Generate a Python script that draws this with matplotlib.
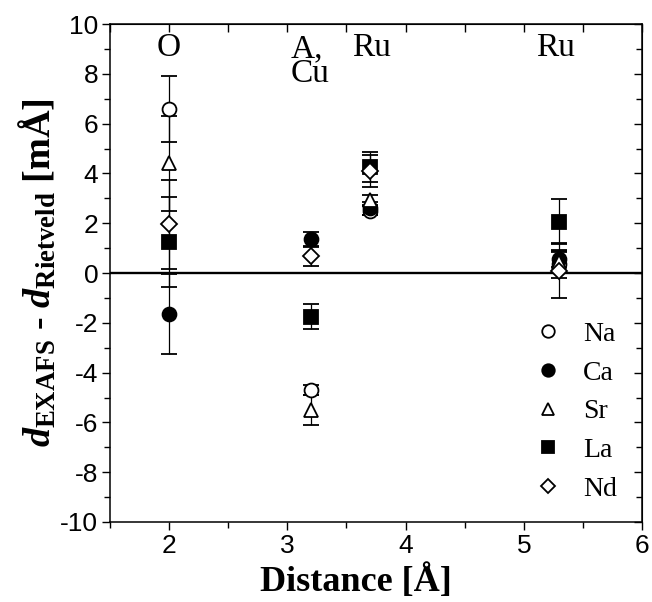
import matplotlib
matplotlib.use("Agg")
import matplotlib.pyplot as plt
from matplotlib.lines import Line2D
from matplotlib.ticker import MultipleLocator

# ==========================================================
# DATA
# ==========================================================

distances = [2.0, 3.2, 3.7, 5.3]
shell_labels = ["O", "A,\nCu", "Ru", "Ru"]

na_dev = [6.6, -4.7, 2.5, 0.35]
na_err = [1.33, 0.2, 0.18, 0.55]

ca_dev = [-1.65, 1.35, 2.6, 0.58]
ca_err = [1.6, 0.3, 0.25, 0.35]

sr_dev = [4.4, -5.5, 2.93, 0.45]
sr_err = [1.9, 0.6, 0.2, 0.4]

la_dev = [1.25, -1.75, 4.25, 2.07]
la_err = [1.8, 0.5, 0.6, 0.9]

nd_dev = [1.95, 0.68, 4.1, 0.1]
nd_err = [1.78, 0.4, 0.65, 1.1]

series = [
    ("Na", na_dev, na_err, "o", "white"),
    ("Ca", ca_dev, ca_err, "o", "black"),
    ("Sr", sr_dev, sr_err, "^", "white"),
    ("La", la_dev, la_err, "s", "black"),
    ("Nd", nd_dev, nd_err, "D", "white"),
]

# ==========================================================
# STYLE
# ==========================================================

plt.rcParams["font.family"] = ["Liberation Sans", "DejaVu Sans"]
plt.rcParams["axes.unicode_minus"] = False
plt.rcParams["mathtext.fontset"] = "custom"
plt.rcParams["mathtext.rm"] = "Liberation Serif:bold"
plt.rcParams["mathtext.bf"] = "Liberation Serif:bold"
plt.rcParams["mathtext.it"] = "Liberation Serif:bold:italic"

serif = ["Liberation Serif", "DejaVu Serif"]

# ==========================================================
# PLOT
# ==========================================================

fig = plt.figure(figsize=(6.52, 6.02), dpi=100)
ax = fig.add_axes([0.1687, 0.1329, 0.8160, 0.8271])

ax.axhline(0, color="black", lw=1.7, zorder=1)

handles = []
for name, dev, err, marker, face in series:
    ms = 10 if marker != "D" else 8
    ax.errorbar(
        distances, dev, yerr=err,
        fmt=marker, ms=ms, mfc=face, mec="black", mew=1.3,
        ecolor="black", elinewidth=0.9, capsize=6, capthick=0.9,
        zorder=3
    )
    handles.append(Line2D([], [], ls="none", marker=marker,
                          ms=ms - 1, mfc=face, mec="black", mew=1.3,
                          label=name))

ax.set_xlim(1.5, 6)
ax.set_ylim(-10, 10)
ax.xaxis.set_major_locator(MultipleLocator(1))
ax.xaxis.set_minor_locator(MultipleLocator(0.5))
ax.yaxis.set_major_locator(MultipleLocator(2))
ax.yaxis.set_minor_locator(MultipleLocator(1))

ax.tick_params(which="both", direction="out", length=5.5, width=1.0,
               labelsize=19, pad=3)
ax.tick_params(which="minor", length=4)

# top / right inward ticks, no labels
top = ax.secondary_xaxis("top")
top.set_xticks([2, 3, 4, 5, 6])
top.xaxis.set_minor_locator(MultipleLocator(0.5))
top.tick_params(which="both", direction="in", length=6, width=1.0,
                labeltop=False)
right = ax.secondary_yaxis("right")
right.set_yticks(range(-10, 11, 2))
right.yaxis.set_minor_locator(MultipleLocator(1))
right.tick_params(which="both", direction="in", length=6, width=1.0,
                  labelright=False)
right.tick_params(which="minor", length=4)

for s in ax.spines.values():
    s.set_linewidth(1.1)

# shell annotations
ax.text(2.0, 9.05, shell_labels[0], ha="center", va="center",
        fontsize=24, family=serif)
ax.text(3.03, 8.5, shell_labels[1], ha="left", va="center",
        fontsize=24, family=serif, linespacing=0.72)
ax.text(3.71, 9.05, shell_labels[2], ha="center", va="center",
        fontsize=24, family=serif)
ax.text(5.27, 9.05, shell_labels[3], ha="center", va="center",
        fontsize=24, family=serif)

ax.set_xlabel("Distance [Å]", fontsize=26, fontweight="bold",
              family=serif)
ax.xaxis.set_label_coords(0.462, -0.085)
ax.set_ylabel(r"$d_{\mathbf{EXAFS}}$ - $d_{\mathbf{Rietveld}}$ [mÅ]",
              fontsize=27.5, fontweight="bold", family=serif, labelpad=1)

ax.legend(
    handles=handles,
    loc="lower right", bbox_to_anchor=(1.0, -0.01),
    frameon=False, numpoints=1, handlelength=1.2, handletextpad=0.66,
    labelspacing=0.48, prop={"family": serif, "size": 20}
)

fig.savefig("out.png", dpi=100)
plt.close(fig)
